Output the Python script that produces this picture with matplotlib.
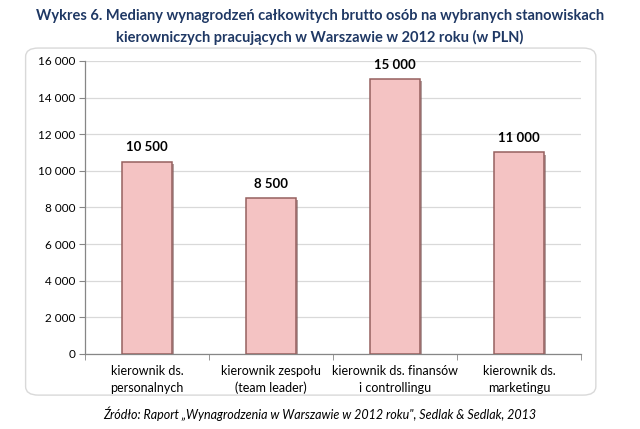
import matplotlib
matplotlib.use("Agg")
import matplotlib.pyplot as plt
from matplotlib.patches import FancyBboxPatch
from matplotlib.ticker import FuncFormatter, FixedLocator, NullFormatter
import matplotlib.patheffects as pe

categories = ["kierownik ds.\npersonalnych", "kierownik zespołu\n(team leader)",
              "kierownik ds. finansów\ni controllingu", "kierownik ds.\nmarketingu"]
values = [10500, 8500, 15000, 11000]
y_ticks = [0, 2000, 4000, 6000, 8000, 10000, 12000, 14000, 16000]
title = ("Wykres 6. Mediany wynagrodzeń całkowitych brutto osób na wybranych stanowiskach\n"
         "kierowniczych pracujących w Warszawie w 2012 roku (w PLN)")
source = "Źródło: Raport „Wynagrodzenia w Warszawie w 2012 roku\", Sedlak & Sedlak, 2013"

plt.rcParams['font.family'] = ['Lato', 'DejaVu Sans']

fig = plt.figure(figsize=(6.4, 4.29), dpi=100)
fig.patch.set_facecolor('white')

# rounded frame
box = FancyBboxPatch((0.040, 0.079), 0.891, 0.809, boxstyle="round,pad=0,rounding_size=0.02",
                     transform=fig.transFigure, facecolor='white', edgecolor='#D9D9D9',
                     linewidth=1.0, zorder=-5)
fig.patches.append(box)

fig.text(0.5, 0.978, title, ha='center', va='top', fontsize=10.5, fontweight='bold',
         color='#1F3864', linespacing=1.55)

ax = fig.add_axes([0.133, 0.175, 0.775, 0.683])
ax.set_zorder(2)
ax.set_facecolor('none')
x = list(range(len(categories)))
bars = ax.bar(x, values, width=0.40, color='#F4C3C3', edgecolor='#96605F', linewidth=1.1, zorder=3)
for b in bars:
    b.set_path_effects([pe.SimplePatchShadow(offset=(1.5, -1.5), shadow_rgbFace='#7F5F5F', alpha=0.6),
                        pe.Normal()])

def fmt(v, pos=None):
    return f"{int(v):,}".replace(",", " ")

for xi, v in zip(x, values):
    ax.text(xi, v + 450, fmt(v), ha='center', va='bottom', fontsize=9.5, fontweight='bold', color='black')

ax.set_ylim(0, 16000)
ax.set_xlim(-0.5, len(categories) - 0.5)
ax.set_yticks(y_ticks)
ax.yaxis.set_major_formatter(FuncFormatter(fmt))
ax.tick_params(axis='y', labelsize=8.5, length=4, color='#868686', labelcolor='black', pad=3)
ax.yaxis.grid(True, color='#D9D9D9', linewidth=0.9, zorder=0)
ax.set_axisbelow(True)

ax.set_xticks(x)
ax.set_xticklabels(categories, fontsize=9, color='black', linespacing=1.45)
ax.tick_params(axis='x', which='major', length=0, pad=8)
ax.xaxis.set_minor_locator(FixedLocator([i - 0.5 for i in range(len(categories) + 1)]))
ax.xaxis.set_minor_formatter(NullFormatter())
ax.tick_params(axis='x', which='minor', length=4, color='#868686')

for s in ['top', 'right']:
    ax.spines[s].set_visible(False)
for s in ['left', 'bottom']:
    ax.spines[s].set_color('#868686')
    ax.spines[s].set_linewidth(0.9)

fig.text(0.5, 0.036, source, ha='center', va='center', fontsize=9, style='italic', color='black')

fig.savefig("out.png", dpi=100)
